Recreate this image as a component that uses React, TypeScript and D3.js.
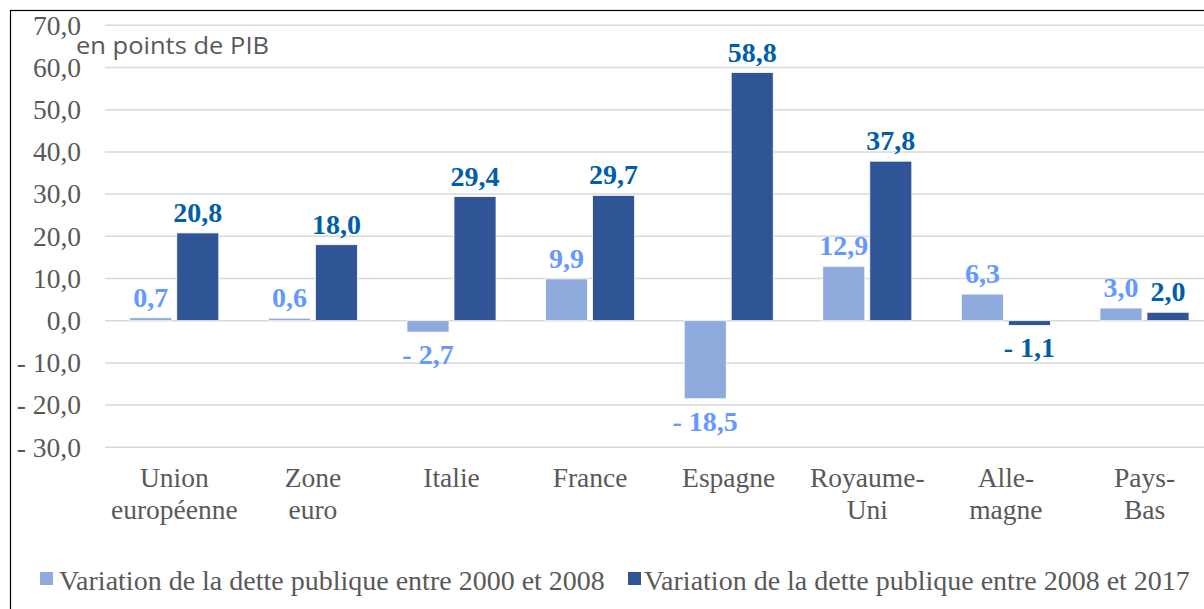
import React from "react";
import * as d3 from "d3";

const categories = ["Union\neuropéenne", "Zone\neuro", "Italie", "France", "Espagne", "Royaume-\nUni", "Alle-\nmagne", "Pays-\nBas"];
const series1Name = "Variation de la dette publique entre 2000 et 2008";
const series2Name = "Variation de la dette publique entre 2008 et 2017";
const series1 = [0.7, 0.6, -2.7, 9.9, -18.5, 12.9, 6.3, 3.0];
const series2 = [20.8, 18.0, 29.4, 29.7, 58.8, 37.8, -1.1, 2.0];
const yTicks = [-30, -20, -10, 0, 10, 20, 30, 40, 50, 60, 70];
const unitLabel = "en points de PIB";

const W = 1204;
const H = 609;
const serif = "'Liberation Serif', 'Times New Roman', serif";
const grey = "#595959";
const lightBar = "#8FAADC";
const darkBar = "#2F5597";
const lightText = "#6699FF";
const darkText = "#005EAA";

const fmt = (v: number) => {
  const s = d3.format(".1f")(Math.abs(v)).replace(".", ",");
  return v < 0 ? "- " + s : s;
};

export default function App() {
  const x0 = d3.scaleBand<string>().domain(categories).range([105, 1213.8]).paddingInner(0).paddingOuter(0);
  const groupW = 89;
  const x1 = d3.scaleBand<string>().domain(["a", "b"]).range([0, groupW]).paddingInner(0.106).paddingOuter(0);
  const y = d3.scaleLinear().domain([-30, 70]).range([447.3, 25.3]);
  const offset = (x0.bandwidth() - groupW) / 2;

  const seriesList = [
    { key: "a", values: series1, fill: lightBar, text: lightText },
    { key: "b", values: series2, fill: darkBar, text: darkText },
  ];

  return (
    <svg width={W} height={H} style={{ position: "absolute", left: 0, top: 0, background: "#fff" }}>
      <rect x={0} y={0} width={W} height={H} fill="#fff" />
      <rect x={10.5} y={10.5} width={1400} height={800} fill="none" stroke="#000" strokeWidth={1.2} />
      {yTicks.map((t) => (
        <g key={t}>
          <line x1={105} x2={1214} y1={y(t)} y2={y(t)} stroke="#D9D9D9" strokeWidth={1.5} />
          <text x={81} y={y(t)} dy="0.34em" textAnchor="end" fontFamily={serif} fontSize={27.5} fill={grey}>
            {fmt(t)}
          </text>
        </g>
      ))}
      <text x={76} y={54} fontFamily="'Open Sans', sans-serif" fontSize={23} fill={grey} textLength={193} lengthAdjust="spacingAndGlyphs">
        {unitLabel}
      </text>
      {seriesList.map((s) => (
        <g key={s.key}>
          {s.values.map((v, i) => {
            const bx = (x0(categories[i]) as number) + offset + (x1(s.key) as number);
            const bw = x1.bandwidth();
            const top = y(Math.max(0, v));
            const h = Math.abs(y(v) - y(0));
            return (
              <g key={i}>
                <rect x={bx} y={top} width={bw} height={h} fill={s.fill} stroke="#fff" strokeWidth={0.75} />
                <text
                  x={bx + bw / 2}
                  y={v >= 0 ? y(v) - 11 : y(v) + 32}
                  textAnchor="middle"
                  fontFamily={serif}
                  fontWeight="bold"
                  fontSize={28}
                  fill={s.text}
                >
                  {fmt(v)}
                </text>
              </g>
            );
          })}
        </g>
      ))}
      {categories.map((c) => {
        const lines = c.split("\n");
        const cx = (x0(c) as number) + x0.bandwidth() / 2;
        return (
          <text key={c} x={cx} textAnchor="middle" fontFamily={serif} fontSize={27.5} fill={grey}>
            {lines.map((l, j) => (
              <tspan key={j} x={cx} y={487 + j * 31.5}>
                {l}
              </tspan>
            ))}
          </text>
        );
      })}
      <g>
        <rect x={40} y={572} width={13} height={13} fill={lightBar} />
        <text x={59} y={590} fontFamily={serif} fontSize={28} fill={grey}>
          {series1Name}
        </text>
        <rect x={628} y={572} width={13} height={13} fill={darkBar} />
        <text x={644} y={590} fontFamily={serif} fontSize={28} fill={grey}>
          {series2Name}
        </text>
      </g>
    </svg>
  );
}
